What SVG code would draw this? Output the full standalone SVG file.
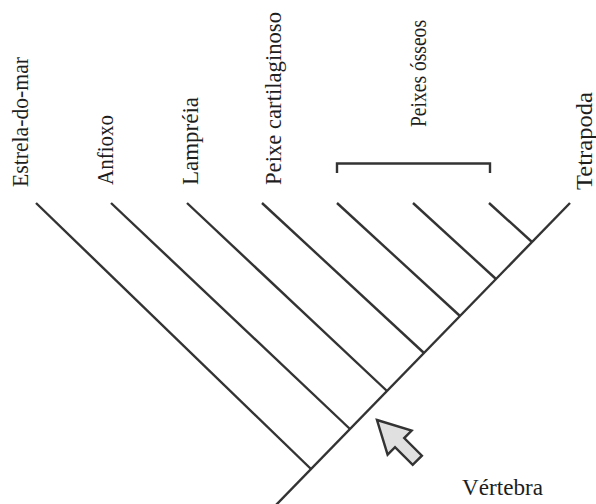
<svg xmlns="http://www.w3.org/2000/svg" width="596" height="504" viewBox="0 0 596 504">
<style>
.br{stroke:#333;stroke-width:2.4;fill:none;stroke-linecap:butt}
.lbl{fill:#1e1e1e}
.arw{fill:#e0e0e0;stroke:#333;stroke-width:2.4;stroke-linejoin:miter}
</style>
<rect width="596" height="504" fill="#fff"/>
<g id="connectors">
<line class="br" x1="570" y1="203" x2="276" y2="505"/>
<line class="br" x1="36" y1="203" x2="311" y2="469"/>
<line class="br" x1="111" y1="203" x2="350" y2="429"/>
<line class="br" x1="187" y1="203" x2="387" y2="391"/>
<line class="br" x1="262" y1="203" x2="424" y2="353"/>
<line class="br" x1="337" y1="203" x2="460" y2="316"/>
<line class="br" x1="413" y1="203" x2="496" y2="279"/>
<line class="br" x1="489" y1="203" x2="532" y2="242"/>
<path class="br" d="M337,173 V163.5 H490 V173" stroke="#444"/>
</g>
<g id="labels" font-family="'Liberation Serif', 'Times New Roman', serif" font-size="22.5">
<g id="estrela"><text class="lbl" transform="translate(28,187) rotate(-90)" textLength="130" lengthAdjust="spacingAndGlyphs">Estrela-do-mar</text></g>
<g id="anfioxo"><text class="lbl" transform="translate(113,185) rotate(-90)" textLength="70" lengthAdjust="spacingAndGlyphs">Anfioxo</text></g>
<g id="lampreia"><text class="lbl" transform="translate(198,185) rotate(-90)" textLength="88" lengthAdjust="spacingAndGlyphs">Lampréia</text></g>
<g id="peixe-cartilaginoso"><text class="lbl" transform="translate(281,185) rotate(-90)" textLength="173" lengthAdjust="spacingAndGlyphs">Peixe cartilaginoso</text></g>
<g id="peixes-osseos"><text class="lbl" transform="translate(426,127) rotate(-90)" textLength="107" lengthAdjust="spacingAndGlyphs">Peixes ósseos</text></g>
<g id="tetrapoda"><text class="lbl" transform="translate(592,190) rotate(-90)" textLength="98" lengthAdjust="spacingAndGlyphs">Tetrapoda</text></g>
<g id="vertebra">
<polygon class="arw" transform="translate(377,420) rotate(45)" points="0,0 32,-17 32,-6.5 57,-6.5 57,6.5 32,6.5 32,17"/>
<text class="lbl" x="462" y="495" font-size="23" textLength="81" lengthAdjust="spacingAndGlyphs">Vértebra</text>
</g>
</g>
</svg>
